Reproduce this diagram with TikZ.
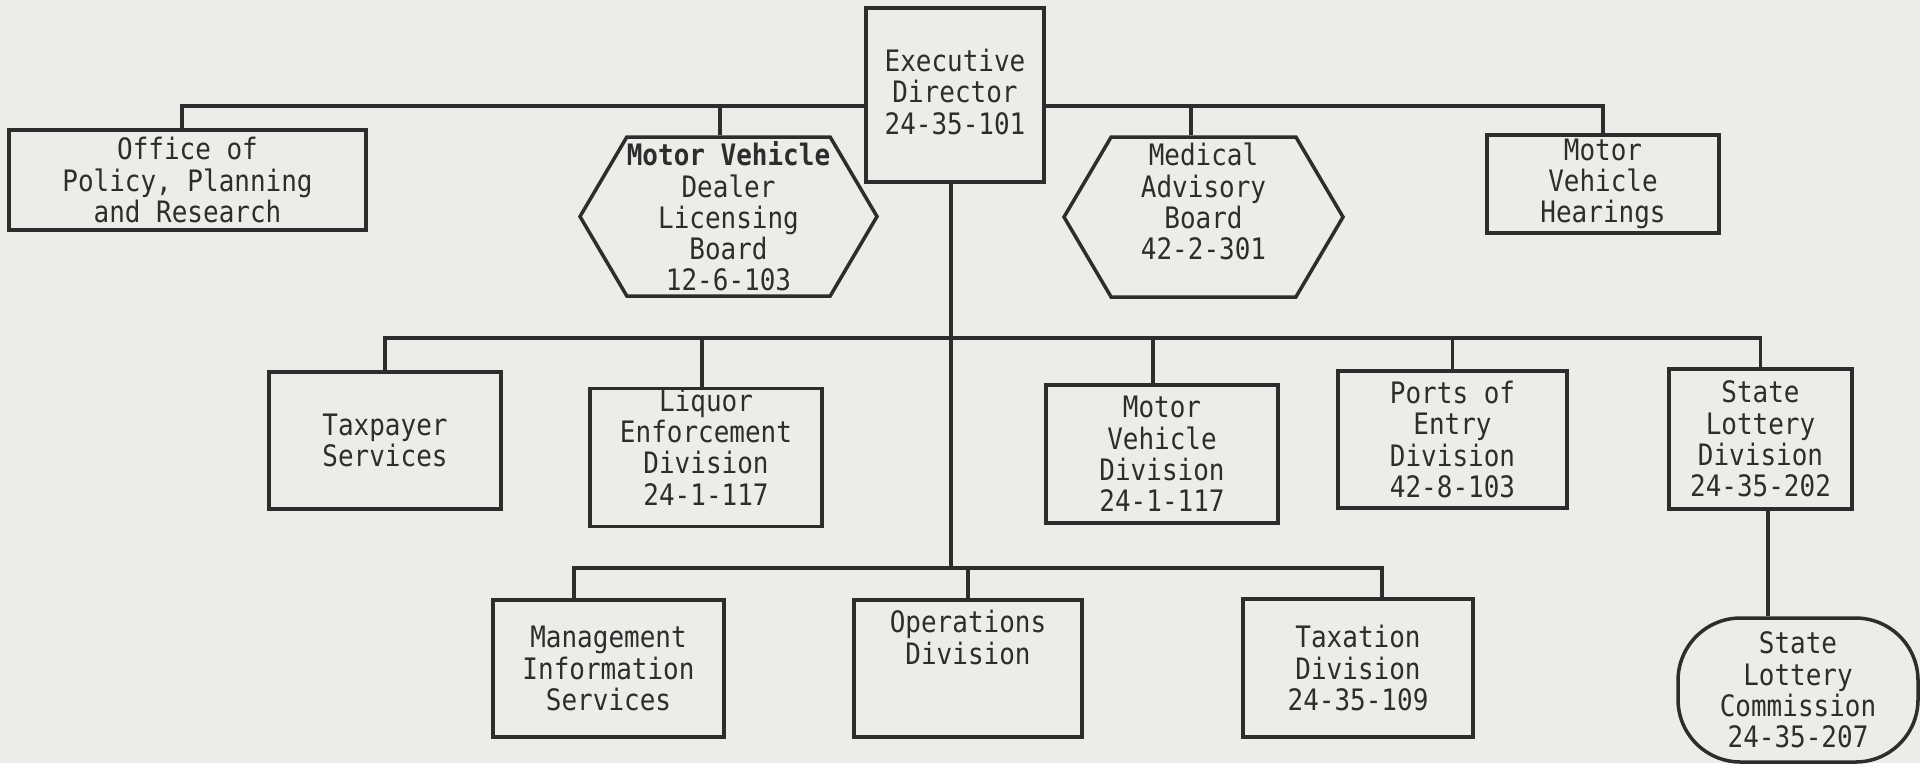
\documentclass[tikz,border=0pt]{standalone}
\usepackage{fontspec}
\setmainfont{DejaVu Sans Mono}[FakeStretch=0.88]
\usepackage{xcolor}
\usepackage{tikz}
\usetikzlibrary{shapes, shapes.symbols, positioning}

\definecolor{paper}{RGB}{236,236,233}
\definecolor{ink}{RGB}{45,45,45}

\begin{document}
\begin{tikzpicture}[ % organisation chart
    font=\fontsize{16.8}{17.8}\selectfont,
    every node/.style={text=ink},
    unit/.style={rectangle, draw=ink, line width=2pt, align=center, inner sep=0pt},
    board/.style={signal, signal to=east and west, signal pointer angle=119, draw=ink, line width=2pt, align=center, inner sep=0pt},
    commission/.style={rectangle, rounded corners=1.25cm, draw=ink, line width=2pt, align=center, inner sep=0pt},
    line/.style={draw=ink, line width=2pt}
    ]

    % page
    \fill [paper] (0,0) rectangle (38.4,-15.26);
    \useasboundingbox (0,0) rectangle (38.4,-15.26);

    % bus heights
    \coordinate (bus1) at (0,-2.12);
    \coordinate (bus2) at (0,-6.76);
    \coordinate (bus3) at (0,-11.36);

    % Top level
    \node [unit, minimum width=3.56cm, minimum height=3.48cm] (exec) at (19.10,-1.90) {~\\[-0.3cm]Executive\\Director\\24-35-101};

    % Staff offices and boards
    \node [unit, minimum width=7.14cm, minimum height=2.00cm] (office) at (3.75,-3.60) {Office of\\Policy, Planning\\and Research};
    \node [board, minimum width=5.58cm, minimum height=3.18cm] (dealer) at (14.57,-4.33) {\textbf{Motor Vehicle}\\Dealer\\Licensing\\Board\\12-6-103};
    \node [board, minimum width=5.58cm, minimum height=3.20cm] (medical) at (24.07,-4.34) {Medical\\Advisory\\Board\\42-2-301\\~};
    \node [unit, minimum width=4.64cm, minimum height=1.96cm] (hearings) at (32.06,-3.68) {Motor\\Vehicle\\Hearings};

    % Divisions, second row
    \node [unit, minimum width=4.64cm, minimum height=2.74cm] (taxpayer) at (7.70,-8.81) {Taxpayer\\Services};
    \node [unit, minimum width=4.64cm, minimum height=2.74cm] (liquor) at (14.12,-9.15) {Liquor\\Enforcement\\Division\\24-1-117\\[-0.2cm]~};
    \node [unit, minimum width=4.64cm, minimum height=2.76cm] (mvdiv) at (23.24,-9.08) {Motor\\Vehicle\\Division\\24-1-117};
    \node [unit, minimum width=4.58cm, minimum height=2.74cm] (ports) at (29.05,-8.79) {Ports of\\Entry\\Division\\42-8-103};
    \node [unit, minimum width=3.66cm, minimum height=2.80cm] (lotterydiv) at (35.21,-8.78) {State\\Lottery\\Division\\24-35-202};

    % Divisions, third row
    \node [unit, minimum width=4.62cm, minimum height=2.74cm] (mis) at (12.17,-13.37) {Management\\Information\\Services};
    \node [unit, minimum width=4.56cm, minimum height=2.74cm] (ops) at (19.36,-13.37) {Operations\\Division\\~\\~};
    \node [unit, minimum width=4.60cm, minimum height=2.76cm] (taxation) at (27.16,-13.36) {Taxation\\Division\\24-35-109};
    \node [commission, minimum width=4.80cm, minimum height=2.88cm] (lotterycom) at (35.96,-13.80) {State\\Lottery\\Commission\\24-35-207};

    % Top bus
    \path [line] ([xshift=-0.11cm]office.north) |- (exec.west |- bus1);
    \path [line] (exec.east |- bus1) -| (hearings.north);
    \path [line] ([xshift=-0.17cm]dealer.north) -- ([xshift=-0.17cm]dealer.north |- bus1);
    \path [line] ([xshift=-0.25cm]medical.north) -- ([xshift=-0.25cm]medical.north |- bus1);

    % Trunk
    \path [line] ([xshift=-0.08cm]exec.south) -- ([xshift=-0.08cm]exec.south |- bus3);

    % Second bus
    \path [line] (taxpayer.north) |- (lotterydiv.north |- bus2) -- (lotterydiv.north);
    \path [line] ([xshift=-0.08cm]liquor.north) -- ([xshift=-0.08cm]liquor.north |- bus2);
    \path [line] ([xshift=-0.18cm]mvdiv.north) -- ([xshift=-0.18cm]mvdiv.north |- bus2);
    \path [line] (ports.north) -- (ports.north |- bus2);

    % Third bus
    \path [line] ([xshift=-0.69cm]mis.north) |- ([xshift=0.48cm]taxation.north |- bus3) -- ([xshift=0.48cm]taxation.north);
    \path [line] (ops.north) -- (ops.north |- bus3);

    % Commission
    \path [line] ([xshift=0.15cm]lotterydiv.south) -- ([xshift=0.15cm]lotterydiv.south |- lotterycom.north);

\end{tikzpicture}
\end{document}
